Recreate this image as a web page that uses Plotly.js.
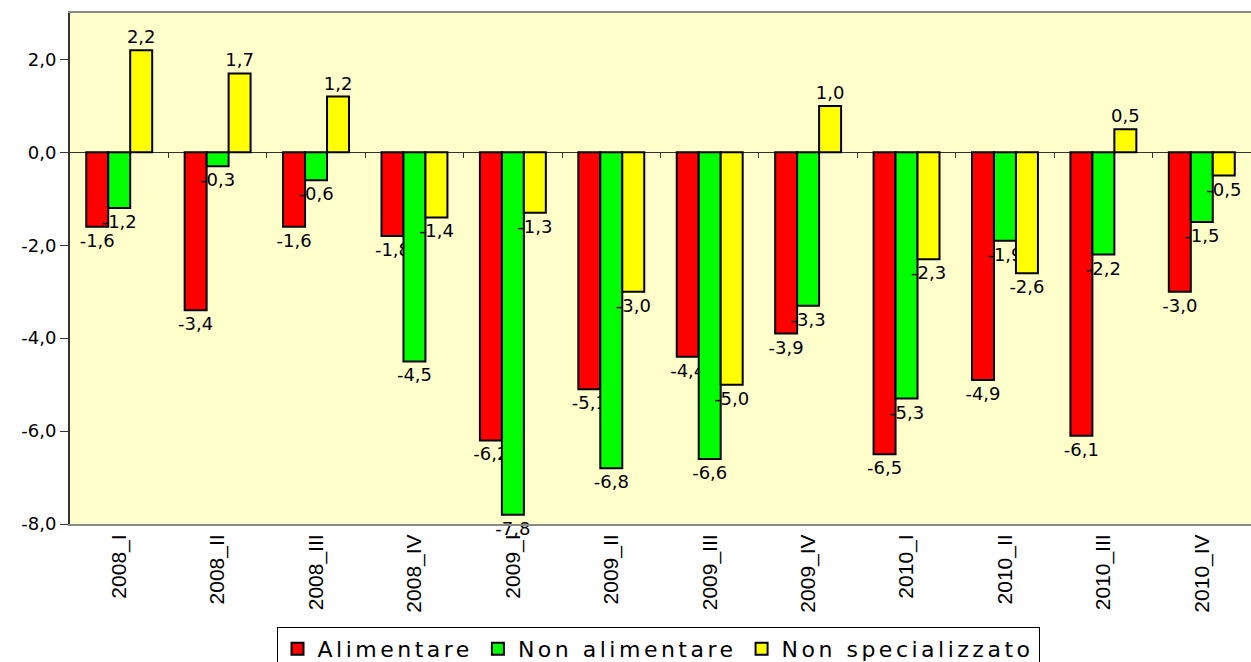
<!DOCTYPE html>
<html>
<head>
<meta charset="utf-8">
<script src="https://cdn.plot.ly/plotly-3.0.1.min.js"></script>
<style>
html,body{margin:0;padding:0;background:#fff;}
#chart{width:1251px;height:662px;}
text.legendtext{letter-spacing:3.5px;}
</style>
</head>
<body>
<div id="chart"></div>
<script>
var categories = ["2008_I","2008_II","2008_III","2008_IV","2009_I","2009_II","2009_III","2009_IV","2010_I","2010_II","2010_III","2010_IV"];
var alimentare = [-1.6,-3.4,-1.6,-1.8,-6.2,-5.1,-4.4,-3.9,-6.5,-4.9,-6.1,-3.0];
var nonAlimentare = [-1.2,-0.3,-0.6,-4.5,-7.8,-6.8,-6.6,-3.3,-5.3,-1.9,-2.2,-1.5];
var nonSpecializzato = [2.2,1.7,1.2,-1.4,-1.3,-3.0,-5.0,1.0,-2.3,-2.6,0.5,-0.5];
var yTicks = [-8,-6,-4,-2,0,2];

function fmt(v){ return v.toFixed(1).replace('.', ','); }

var WIDE = 'DejaVu Sans, Verdana, sans-serif';

function barTrace(name, vals, color){
  return {
    type: 'bar', name: name, x: categories, y: vals,
    marker: {color: color, line: {color: '#000', width: 2}},
    text: vals.map(fmt), textposition: 'outside', constraintext: 'none',
    cliponaxis: false,
    textfont: {family: WIDE, size: 18, color: '#000'},
    hoverinfo: 'skip'
  };
}

var data = [
  barTrace('Alimentare', alimentare, '#FF0000'),
  barTrace('Non alimentare', nonAlimentare, '#00FF00'),
  barTrace('Non specializzato', nonSpecializzato, '#FFFF00'),
  {type:'scatter', x:[-0.5, 11.5], y:[0,0], xaxis:'x2', yaxis:'y', mode:'lines',
   line:{width:0}, opacity:0, showlegend:false, hoverinfo:'skip'}
];

var boundaries = [];
for (var i = 0; i < categories.length - 1; i++) boundaries.push(i + 0.5);

var layout = {
  width: 1251, height: 662,
  margin: {l: 70, r: 0, t: 13, b: 138, autoexpand: false},
  paper_bgcolor: '#FFFFFF',
  plot_bgcolor: '#FFFFCC',
  barmode: 'group', bargap: 0.33, bargroupgap: 0,
  font: {family: WIDE, color: '#000'},
  showlegend: true,
  legend: {
    orientation: 'h', x: 658/1251, xanchor: 'center', xref: 'container',
    y: 1 - 627/662, yanchor: 'top', yref: 'container',
    font: {size: 22, family: WIDE, color: '#000'},
    bordercolor: '#000', borderwidth: 1, bgcolor: '#FFFFFF',
    itemclick: false
  },
  xaxis: {
    type: 'category', tickangle: -90, showgrid: false, zeroline: false,
    ticks: '', showline: true, mirror: true, linecolor: '#8a8a8a', linewidth: 2,
    automargin: false,
    tickfont: {size: 21, family: 'Liberation Sans Narrow, Arial Narrow, Liberation Sans, sans-serif', color: '#000'},
    range: [-0.5, 11.5]
  },
  xaxis2: {
    overlaying: 'x', anchor: 'free', position: 8/11, side: 'bottom',
    range: [-0.5, 11.5], tickvals: boundaries, showticklabels: false,
    ticks: 'outside', ticklen: 5, tickwidth: 1, tickcolor: '#333',
    showgrid: false, zeroline: false, showline: false, automargin: false
  },
  yaxis: {
    range: [-8, 3], tickvals: yTicks, ticktext: yTicks.map(fmt),
    showgrid: false, zeroline: true, zerolinecolor: '#333', zerolinewidth: 1,
    showline: true, linecolor: '#333', linewidth: 2, automargin: false,
    ticks: 'outside', ticklen: 8, tickcolor: '#333', tickwidth: 1,
    tickfont: {size: 18, family: WIDE, color: '#000'}
  }
};

Plotly.newPlot('chart', data, layout, {displayModeBar: false, staticPlot: true});
</script>
</body>
</html>
